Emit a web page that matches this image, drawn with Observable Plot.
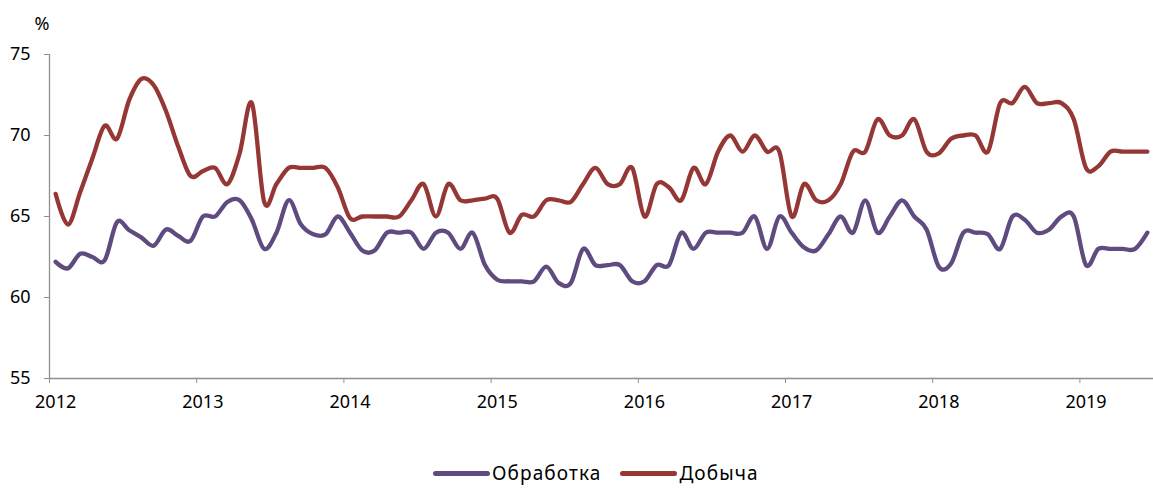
<!DOCTYPE html>
<html>
<head>
<meta charset="utf-8">
<script src="https://cdn.jsdelivr.net/npm/d3@7"></script>
<script src="https://cdn.jsdelivr.net/npm/@observablehq/plot@0.6"></script>
<style>
  body { margin: 0; background: #fff; font-family: "Noto Sans", sans-serif; }
  #wrap { position: relative; width: 1153px; height: 490px; overflow: hidden; background: #fff; }
  #legend { position: absolute; left: 433px; top: 461px; display: flex; align-items: center;
            font-size: 19px; line-height: 24px; letter-spacing: 1.1px; color: #000; white-space: nowrap; }
  .item { display: flex; align-items: center; margin-right: 19px; }
  .sw { display: inline-block; width: 57px; height: 5px; border-radius: 3px; margin-right: 2px; }
</style>
</head>
<body>
<div id="wrap">
  <div id="chart"></div>
  <div id="legend"></div>
</div>
<script>
// ---- data (monthly, Jan 2012 – Jun 2019), % ----
const startYear = 2012;
const yearLabels = ["2012", "2013", "2014", "2015", "2016", "2017", "2018", "2019"];
const seriesNames = ["Обработка", "Добыча"];
const seriesColors = ["#5f4b80", "#953735"];
const yTicks = [55, 60, 65, 70, 75];
const unitLabel = "%";

const obrabotka = [
  62.2, 61.8, 62.7, 62.5, 62.3, 64.65, 64.15, 63.7, 63.2, 64.2, 63.8, 63.5,
  65.0, 65.0, 65.9, 66.0, 64.8, 63.0, 64.0, 66.0, 64.5, 63.9, 63.9, 65.0,
  64.0, 62.9, 62.9, 64.0, 64.0, 64.0, 63.0, 64.0, 64.0, 63.0, 64.0, 62.0,
  61.1, 61.0, 61.0, 61.0, 61.9, 60.9, 60.9, 63.0, 62.0, 62.0, 62.0, 61.0,
  61.0, 62.0, 62.0, 64.0, 63.0, 64.0, 64.0, 64.0, 64.0, 65.0, 63.0, 65.0,
  64.0, 63.1, 62.9, 63.9, 65.0, 64.0, 66.0, 64.0, 65.0, 66.0, 65.0, 64.2,
  61.9, 62.1, 64.0, 64.0, 63.9, 63.0, 65.0, 64.8, 64.0, 64.2, 65.0, 65.0,
  62.0, 63.0, 63.0, 63.0, 63.0, 64.0
];
const dobycha = [
  66.4, 64.5, 66.5, 68.6, 70.6, 69.8, 72.2, 73.5, 73.1, 71.5, 69.3, 67.5,
  67.8, 68.0, 67.0, 68.9, 72.0, 65.9, 67.0, 68.0, 68.0, 68.0, 68.0, 66.8,
  64.9, 65.0, 65.0, 65.0, 65.0, 66.0, 67.0, 65.0, 67.0, 66.0, 66.0, 66.1,
  66.1, 64.0, 65.1, 65.0, 66.0, 66.0, 65.9, 67.0, 68.0, 67.0, 67.0, 68.0,
  65.0, 67.0, 66.8, 66.0, 68.0, 67.0, 69.0, 70.0, 69.0, 70.0, 69.0, 69.0,
  65.0, 67.0, 66.0, 66.0, 67.0, 69.0, 69.0, 71.0, 70.0, 70.0, 71.0, 69.0,
  68.9, 69.8, 70.0, 70.0, 69.0, 72.0, 72.0, 73.0, 72.0, 72.0, 72.0, 71.0,
  68.0, 68.1, 69.0, 69.0, 69.0, 69.0
];

// ---- table for Plot (month slots, points centred in each slot) ----
const rows = [
  ...obrabotka.map((v, i) => ({ t: i + 0.5, v, s: seriesNames[0] })),
  ...dobycha.map((v, i) => ({ t: i + 0.5, v, s: seriesNames[1] }))
];
const yearTicks = yearLabels.map((_, k) => k * 12);
const yearLabelPos = yearTicks.map(d => d + 0.5);
const axisGray = "#8f8f8f";

const chart = Plot.plot({
  width: 1153,
  height: 420,
  marginLeft: 49,
  marginRight: 0,
  marginTop: 54,
  marginBottom: 42,
  style: { fontFamily: '"Noto Sans", sans-serif', fontSize: "18px", color: "#000", background: "#fff" },
  x: { domain: [0, obrabotka.length], axis: null },
  y: { domain: [55, 75], axis: null },
  color: { domain: seriesNames, range: seriesColors },
  marks: [
    Plot.ruleX([0], { stroke: axisGray, strokeWidth: 1.3 }),
    Plot.ruleY([55], { stroke: axisGray, strokeWidth: 1.3 }),
    Plot.axisY({ ticks: yTicks, tickSize: 5, tickPadding: 14, stroke: axisGray, fontSize: 18,
                 fill: "#000", tickFormat: d => String(d), label: null }),
    Plot.axisX({ ticks: yearTicks, tickSize: 5, text: null, stroke: axisGray, label: null }),
    Plot.axisX({ ticks: yearLabelPos, tickSize: 0, tickPadding: 17, fontSize: 18, fill: "#000",
                 tickFormat: d => String(startYear + Math.round((d - 0.5) / 12)), label: null }),
    Plot.line(rows, { x: "t", y: "v", z: "s", stroke: "s", strokeWidth: 4.3, curve: "cardinal",
                      strokeLinecap: "round", strokeLinejoin: "round" })
  ]
});

d3.select(chart).append("text")
  .attr("x", 42).attr("y", 30)
  .attr("font-size", 18).attr("fill", "#000")
  .attr("font-family", '"Noto Sans", sans-serif')
  .text(unitLabel);

document.getElementById("chart").appendChild(chart);

// ---- legend ----
const legend = d3.select("#legend");
seriesNames.forEach((name, i) => {
  const item = legend.append("div").attr("class", "item");
  item.append("span").attr("class", "sw").style("background", seriesColors[i]);
  item.append("span").text(name);
});
</script>
</body>
</html>
